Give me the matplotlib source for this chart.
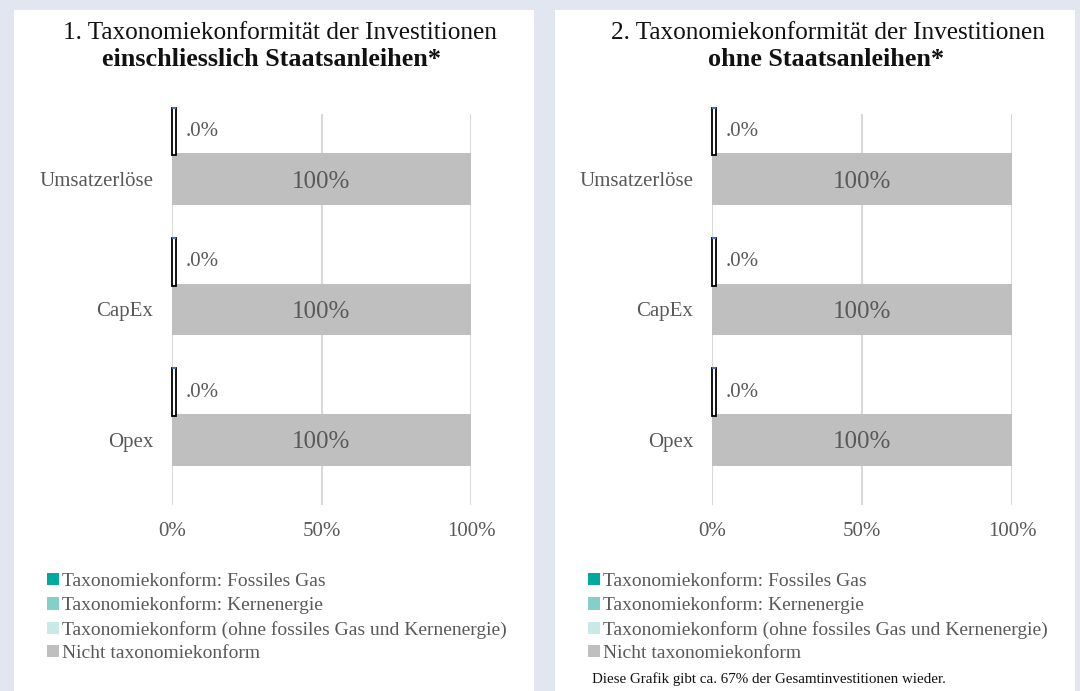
import matplotlib
matplotlib.use("Agg")
import matplotlib.pyplot as plt
from matplotlib.patches import Rectangle, Patch

# ---- data ----
categories = ["Umsatzerlöse", "CapEx", "Opex"]
aligned_left = [0.0, 0.0, 0.0]        # Taxonomiekonform (all types), panel 1
not_aligned_left = [100, 100, 100]
aligned_right = [0.0, 0.0, 0.0]
not_aligned_right = [100, 100, 100]
titles = [("1. Taxonomiekonformität der Investitionen", "einschliesslich Staatsanleihen*"),
          ("2. Taxonomiekonformität der Investitionen", "ohne Staatsanleihen*")]
legend_labels = ["Taxonomiekonform: Fossiles Gas",
                 "Taxonomiekonform: Kernenergie",
                 "Taxonomiekonform (ohne fossiles Gas und Kernenergie)",
                 "Nicht taxonomiekonform"]
legend_colors = ["#00a99d", "#84cfc6", "#c8e9e5", "#bfbfbf"]
xticks = [0, 50, 100]
footnote = "Diese Grafik gibt ca. 67% der Gesamtinvestitionen wieder."

W, H = 1080, 691
plt.rcParams['font.family'] = ['Liberation Serif', 'DejaVu Serif']
fig = plt.figure(figsize=(W / 100, H / 100), dpi=100)
fig.patch.set_facecolor("#e1e6f1")

TXT = "#595959"

panels = [(14, 534, 172, 471), (555, 1075, 712, 1012)]
title_centers = [(280, 272), (828, 826)]
data = [(aligned_left, not_aligned_left), (aligned_right, not_aligned_right)]

for k, ((px0, px1, ax0, ax1), (al, na), (t1, t2), (c1, c2)) in enumerate(
        zip(panels, data, titles, title_centers)):
    fig.patches.append(Rectangle((px0 / W, 0), (px1 - px0) / W, (H - 10) / H,
                                 transform=fig.transFigure, facecolor="white",
                                 edgecolor="none", zorder=-5))
    fig.text(c1 / W, 1 - 33 / H, t1, ha="center", va="center", fontsize=18.2, color="#111111")
    fig.text(c2 / W, 1 - 60 / H, t2, ha="center", va="center", fontsize=18.8,
             fontweight="bold", color="#111111")

    ax = fig.add_axes([ax0 / W, 1 - 505 / H, (ax1 - ax0) / W, (505 - 114) / H])
    ax.set_facecolor("none")
    ax.set_zorder(2)
    ypos = list(range(len(categories)))
    hb = 0.397
    hs = 0.366
    ax.barh(ypos, na, height=hb, color="#bfbfbf", zorder=2)
    small_y = [y - 0.366 for y in ypos]
    disp = [max(v, 1.4) for v in al]
    bars = ax.barh(small_y, disp, height=hs, facecolor="white", edgecolor="black",
                   linewidth=1.3, zorder=3, clip_on=False)
    for b in bars:
        ax.hlines(b.get_y(), b.get_x(), b.get_x() + b.get_width(), color="#4472c4",
                  linewidth=1.5, zorder=4, clip_on=False)
    for y, v, d in zip(small_y, al, disp):
        lbl = f"{v:.1f}%".lstrip("0")
        ax.annotate(lbl, (d, y), xytext=(7, 0), textcoords="offset points",
                    ha="left", va="center", fontsize=15, color=TXT)
    for y, v in zip(ypos, na):
        ax.text(v / 2, y, f"{v:.0f}%", ha="center", va="center_baseline", fontsize=18,
                color=TXT, zorder=5)

    ax.set_xlim(0, 100)
    ax.set_ylim(2.5, -0.5)
    ax.set_xticks(xticks)
    ax.set_xticklabels([f"{t}%" for t in xticks])
    ax.set_yticks(ypos)
    ax.set_yticklabels(categories)
    ax.tick_params(axis="both", length=0, labelsize=15, labelcolor=TXT)
    ax.tick_params(axis="x", pad=12.5)
    ax.tick_params(axis="y", pad=13.5)
    for s in ax.spines.values():
        s.set_visible(False)
    ax.grid(axis="x", color="#d9d9d9", linewidth=1.5, zorder=1)
    ax.set_axisbelow(True)

    handles = [Patch(facecolor=c, edgecolor="none") for c in legend_colors]
    lx = (px0 + 33) / W
    fig.legend(handles, legend_labels, loc="upper left", bbox_to_anchor=(lx, 1 - 573 / H),
               frameon=False, fontsize=14, handlelength=0.6, handleheight=0.6,
               handletextpad=0.15, labelspacing=0.33, borderaxespad=0, borderpad=0,
               labelcolor=TXT)

fig.text(592 / W, 1 - 679 / H, footnote, ha="left", va="center", fontsize=10.8, color="#111111")

fig.savefig("out.png", dpi=100, facecolor=fig.get_facecolor())
